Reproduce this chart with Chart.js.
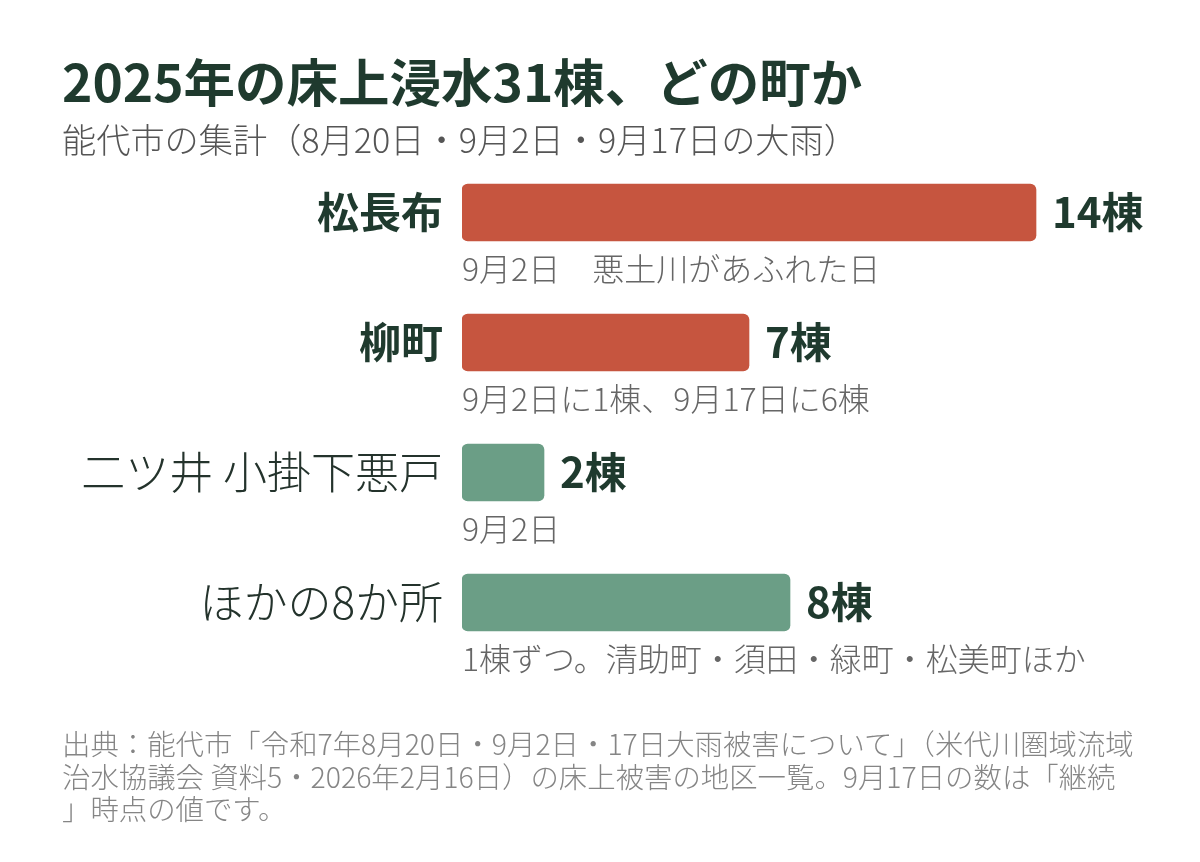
<!DOCTYPE html>
<html lang="ja">
<head>
<meta charset="utf-8">
<script src="https://cdn.jsdelivr.net/npm/chart.js@4.4.1/dist/chart.umd.min.js"></script>
<style>
  html, body { margin: 0; padding: 0; background: #ffffff; }
  body { width: 1200px; height: 862px; position: relative; overflow: hidden;
         font-family: "Noto Sans CJK JP", "Noto Sans", sans-serif; }
  #chartWrap { position: absolute; left: 0; top: 0; width: 1200px; height: 862px; }
  .title { position: absolute; left: 62px; top: 53px; font-size: 51.5px; line-height: 54px;
           font-weight: bold; color: #1f3a2e; white-space: nowrap; }
  .subtitle { position: absolute; left: 62px; top: 121px; font-size: 34.2px; line-height: 34px;
              font-weight: 300; color: #555555; white-space: nowrap; }
  .footer { position: absolute; left: 62px; top: 727px; font-size: 28.4px; line-height: 32.5px;
            font-weight: 300; color: #858585; white-space: nowrap; }
</style>
</head>
<body>
<div id="chartWrap"><canvas id="c" width="1200" height="862"></canvas></div>
<div class="title">2025年の床上浸水31棟、どの町か</div>
<div class="subtitle">能代市の集計（8月20日・9月2日・9月17日の大雨）</div>
<div class="footer">出典：能代市「令和7年8月20日・9月2日・17日大雨被害について」（米代川圏域流域<br>治水協議会 資料5・2026年2月16日）の床上被害の地区一覧。9月17日の数は「継続<br>」時点の値です。</div>
<script>
const categories = ["松長布", "柳町", "二ツ井 小掛下悪戸", "ほかの8か所"];
const values = [14, 7, 2, 8];
const valueLabels = ["14棟", "7棟", "2棟", "8棟"];
const notes = ["9月2日　悪土川があふれた日", "9月2日に1棟、9月17日に6棟", "9月2日", "1棟ずつ。清助町・須田・緑町・松美町ほか"];
const highlight = [true, true, false, false];

const FONT = '"Noto Sans CJK JP", "Noto Sans", sans-serif';
const RED = '#c6553f';
const GREEN = '#6b9e86';
const DARK = '#1f3a2e';

const labelPlugin = {
  id: 'barLabels',
  afterDatasetsDraw(chart) {
    const ctx = chart.ctx;
    const meta = chart.getDatasetMeta(0);
    const xScale = chart.scales.x;
    const yScale = chart.scales.y;
    ctx.save();
    meta.data.forEach((bar, i) => {
      const yc = yScale.getPixelForValue(i);
      const xEnd = xScale.getPixelForValue(values[i]);
      ctx.font = 'bold 42px ' + FONT;
      ctx.fillStyle = DARK;
      ctx.textAlign = 'left';
      ctx.textBaseline = 'middle';
      ctx.fillText(valueLabels[i], xEnd + 16, yc);
      ctx.font = '300 32px ' + FONT;
      ctx.fillStyle = '#666666';
      ctx.fillText(notes[i], xScale.getPixelForValue(0), yc + 56);
    });
    ctx.restore();
  }
};

new Chart(document.getElementById('c'), {
  type: 'bar',
  data: {
    labels: categories,
    datasets: [{
      data: values,
      backgroundColor: highlight.map(h => h ? RED : GREEN),
      borderRadius: 6,
      borderSkipped: false,
      barThickness: 57
    }]
  },
  options: {
    indexAxis: 'y',
    responsive: false,
    animation: false,
    layout: { padding: { left: 62, right: 82, top: 147.5, bottom: 194.5 } },
    plugins: { legend: { display: false }, tooltip: { enabled: false } },
    scales: {
      x: { display: false, min: 0, max: 16 },
      y: {
        afterFit(scale) { scale.width = 400; },
        grid: { display: false, drawTicks: false },
        border: { display: false },
        ticks: {
          padding: 19,
          color: (c) => highlight[c.index] ? DARK : '#24332c',
          font: (c) => highlight[c.index]
            ? { family: FONT, size: 42, weight: 'bold' }
            : { family: FONT, size: 44, weight: 300 }
        }
      }
    }
  },
  plugins: [labelPlugin]
});
</script>
</body>
</html>
